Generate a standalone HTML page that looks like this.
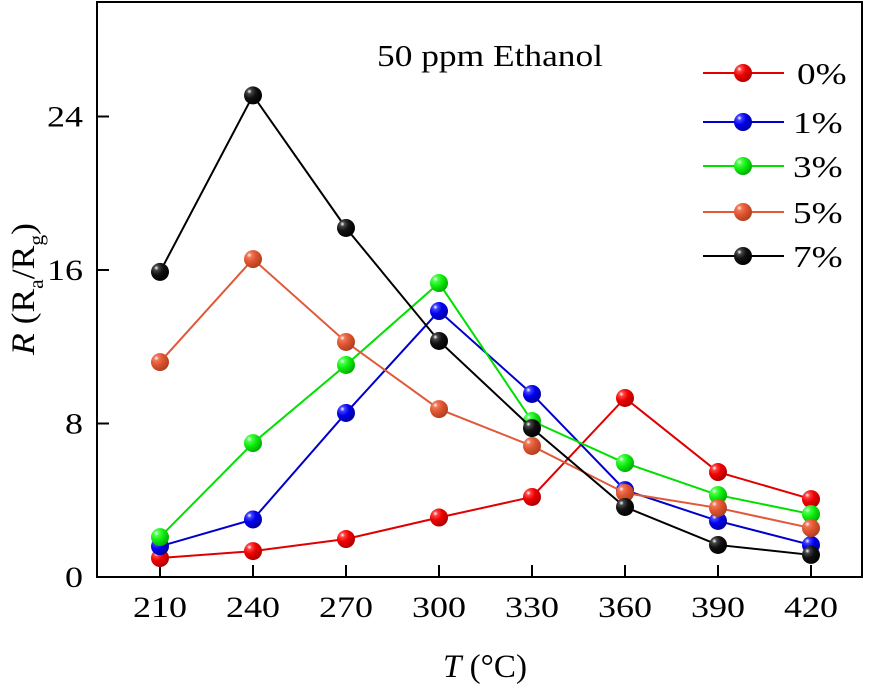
<!DOCTYPE html>
<html><head><meta charset="utf-8"><style>
html,body{margin:0;padding:0;background:#fff;}
svg{display:block;font-family:"Liberation Serif",serif;}
</style></head><body>
<svg id="chart" width="877" height="690" viewBox="0 0 877 690">
<defs>
<radialGradient id="g0" cx="0.3" cy="0.28" r="0.75"><stop offset="0" stop-color="#fff"/><stop offset="0.18" stop-color="#ff4040"/><stop offset="0.5" stop-color="#ee0000"/><stop offset="1" stop-color="#b00000"/></radialGradient>
<radialGradient id="g1" cx="0.3" cy="0.28" r="0.75"><stop offset="0" stop-color="#fff"/><stop offset="0.18" stop-color="#4040ff"/><stop offset="0.5" stop-color="#0000ee"/><stop offset="1" stop-color="#0000a0"/></radialGradient>
<radialGradient id="g2" cx="0.3" cy="0.28" r="0.75"><stop offset="0" stop-color="#fff"/><stop offset="0.18" stop-color="#50ff50"/><stop offset="0.5" stop-color="#10ee10"/><stop offset="1" stop-color="#00b000"/></radialGradient>
<radialGradient id="g3" cx="0.3" cy="0.28" r="0.75"><stop offset="0" stop-color="#fff"/><stop offset="0.18" stop-color="#f07858"/><stop offset="0.5" stop-color="#e05530"/><stop offset="1" stop-color="#b04020"/></radialGradient>
<radialGradient id="g4" cx="0.3" cy="0.28" r="0.75"><stop offset="0" stop-color="#fff"/><stop offset="0.18" stop-color="#444"/><stop offset="0.5" stop-color="#111"/><stop offset="1" stop-color="#000"/></radialGradient>
</defs>
<g id="axes"></g>
<g id="series"></g>
<g id="legend"></g>
<text x="377" y="66" font-size="31" textLength="226" lengthAdjust="spacingAndGlyphs">50 ppm Ethanol</text>
<text x="485" y="677" font-size="33" text-anchor="middle" textLength="84" lengthAdjust="spacingAndGlyphs"><tspan font-style="italic">T</tspan> (°C)</text>
<text transform="translate(34,289) rotate(-90)" font-size="33" text-anchor="middle" textLength="132" lengthAdjust="spacingAndGlyphs"><tspan font-style="italic">R</tspan> (R<tspan font-size="20" dy="9">a</tspan><tspan dy="-9">/R</tspan><tspan font-size="20" dy="9">g</tspan><tspan dy="-9">)</tspan></text>
</svg>
<script>
const categories=[210,240,270,300,330,360,390,420];
const seriesNames=["0%","1%","3%","5%","7%"];
const s0=[0.99,1.35,1.98,3.1,4.17,9.33,5.47,4.06];
const s1=[1.6,3.0,8.55,13.86,9.54,4.53,2.92,1.67];
const s2=[2.08,6.98,11.05,15.32,8.13,5.94,4.27,3.28];
const s3=[11.2,16.57,12.25,8.75,6.83,4.38,3.6,2.55];
const s4=[15.9,25.1,18.19,12.3,7.76,3.65,1.67,1.15];
const yTicks=[0,8,16,24];
const NS="http://www.w3.org/2000/svg";
const colors=["#e00000","#0000cc","#00e000","#e05a3a","#000000"];
const L=97,R=862,T=2,B=577;
const x=v=>160+(v-210)*(93/30);
const y=v=>B-v*(153.5/8);
function mk(tag,attrs,parent){const e=document.createElementNS(NS,tag);for(const k in attrs)e.setAttribute(k,attrs[k]);parent.appendChild(e);return e;}
const axes=document.getElementById('axes');
const frame=mk('rect',{x:L,y:T,width:R-L,height:B-T,fill:'none',stroke:'#000','stroke-width':2},axes);


categories.forEach(c=>{
  const t=mk('line',{x1:x(c),x2:x(c),y1:B,y2:B-12,stroke:'#000','stroke-width':2},axes);
  
  
  const lb=mk('text',{x:x(c),y:B+40,'font-size':30,'text-anchor':'middle','class':'st'},axes);
  lb.textContent=c;
  
  
});
yTicks.forEach(v=>{
  const t=mk('line',{x1:L,x2:L+12,y1:y(v),y2:y(v),stroke:'#000','stroke-width':2},axes);
  
  
  const lb=mk('text',{x:L-14,y:y(v)+10,'font-size':30,'text-anchor':'end','class':'st'},axes);
  lb.textContent=v;
  
  
});
const all=[s0,s1,s2,s3,s4];
const sg=document.getElementById('series');
all.forEach((s,i)=>{
  const g=mk('g',{},sg);
  
  
  const ln=mk('polyline',{points:s.map((v,j)=>x(categories[j])+','+y(v)).join(' '),fill:'none',stroke:colors[i],'stroke-width':2},g);
  
  
  s.forEach((v,j)=>{
    const c=mk('circle',{cx:x(categories[j]),cy:y(v),r:9,fill:'url(#g'+i+')'},g);
    
    
  });
});
const lg=document.getElementById('legend');
const ly=[73,122,166,212,256];
seriesNames.forEach((n,i)=>{
  const g=mk('g',{},lg);
  
  
  mk('line',{x1:703,x2:784,y1:ly[i],y2:ly[i],stroke:colors[i],'stroke-width':2},g);
  mk('circle',{cx:743,cy:ly[i],r:9,fill:'url(#g'+i+')'},g);
  const t=mk('text',{x:i===0?797:793,y:ly[i]+11,'font-size':31,'class':'st'},g);
  t.textContent=n;
});
document.querySelectorAll('text.st').forEach(t=>{
  const w=t.getComputedTextLength();
  t.setAttribute('textLength',(w*1.2).toFixed(1));
  t.setAttribute('lengthAdjust','spacingAndGlyphs');
});
</script>
</body></html>
